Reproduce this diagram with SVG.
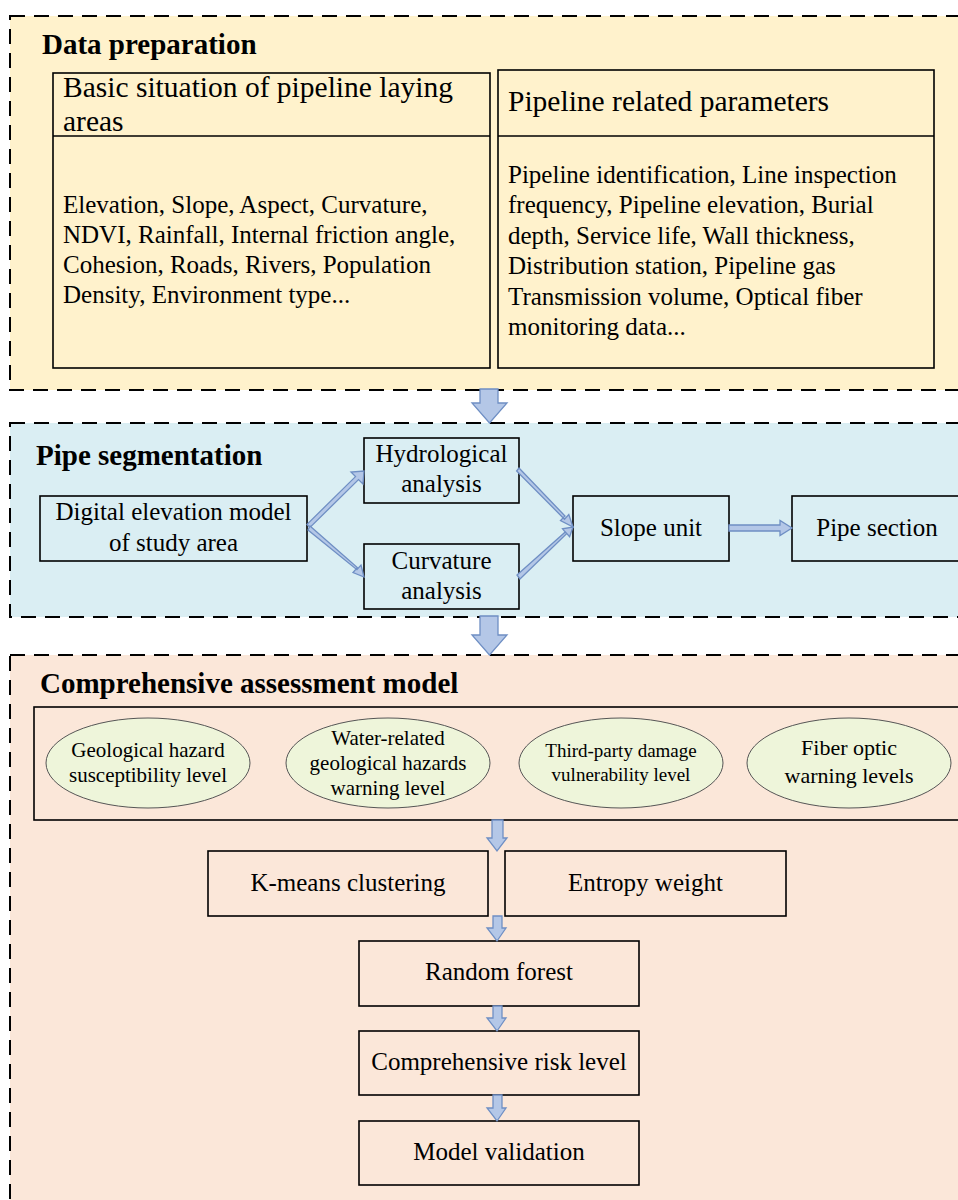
<svg xmlns="http://www.w3.org/2000/svg" width="958" height="1200" viewBox="0 0 958 1200">
<defs>
<style>
.sec{stroke:#000;stroke-width:2;stroke-dasharray:15 9}
.box{fill:none;stroke:#000;stroke-width:1.6}
.t{font-family:"Liberation Serif","Times New Roman",serif;fill:#000}
.h{font-size:29px;font-weight:bold}
.n{font-size:25px}
.c{text-anchor:middle}
.ell{fill:#EEF5DA;stroke:#555;stroke-width:1}
.arr{fill:#B4C7E7;stroke:#6F8FC4;stroke-width:1.3;stroke-linejoin:miter}
</style>
</defs>
<rect width="958" height="1200" fill="#fff"/>

<g id="data-preparation">
<rect class="sec" x="10" y="16" width="960" height="374" fill="#FFF2CC"/>
<text class="t h" x="42" y="54">Data preparation</text>
</g>
<g id="basic-situation">
<rect class="box" x="53" y="73" width="437" height="295"/>
<line x1="53" y1="136" x2="490" y2="136" stroke="#000" stroke-width="1.6"/>
<text class="t" font-size="29.5" x="63" y="97">Basic situation of pipeline laying</text>
<text class="t" font-size="29.5" x="63" y="131">areas</text>
<text class="t n" x="63" y="213">Elevation, Slope, Aspect, Curvature,</text>
<text class="t n" x="63" y="243">NDVI, Rainfall, Internal friction angle,</text>
<text class="t n" x="63" y="273">Cohesion, Roads, Rivers, Population</text>
<text class="t n" x="63" y="303">Density, Environment type...</text>
</g>
<g id="pipeline-parameters">
<rect class="box" x="498" y="70" width="436" height="298"/>
<line x1="498" y1="136" x2="934" y2="136" stroke="#000" stroke-width="1.6"/>
<text class="t" font-size="29.5" x="508" y="111">Pipeline related parameters</text>
<text class="t n" x="508" y="183">Pipeline identification, Line inspection</text>
<text class="t n" x="508" y="213.4">frequency, Pipeline elevation, Burial</text>
<text class="t n" x="508" y="243.8">depth, Service life, Wall thickness,</text>
<text class="t n" x="508" y="274.2">Distribution station, Pipeline gas</text>
<text class="t n" x="508" y="304.6">Transmission volume, Optical fiber</text>
<text class="t n" x="508" y="335">monitoring data...</text>
</g>

<g id="pipe-segmentation">
<rect class="sec" x="10" y="423" width="960" height="194" fill="#DAEEF3"/>
<text class="t h" x="36" y="465">Pipe segmentation</text>
</g>
<g id="dem">
<rect class="box" x="40" y="496" width="267" height="65"/>
<text class="t n c" x="173.5" y="520">Digital elevation model</text>
<text class="t n c" x="173.5" y="551">of study area</text>
</g>
<g id="hydrological">
<rect class="box" x="364" y="438" width="155" height="65"/>
<text class="t n c" x="441.5" y="462">Hydrological</text>
<text class="t n c" x="441.5" y="492">analysis</text>
</g>
<g id="curvature">
<rect class="box" x="364" y="544" width="155" height="65"/>
<text class="t n c" x="441.5" y="569">Curvature</text>
<text class="t n c" x="441.5" y="599">analysis</text>
</g>
<g id="slope-unit">
<rect class="box" x="573" y="496" width="156" height="65"/>
<text class="t n c" x="651" y="536">Slope unit</text>
</g>
<g id="pipe-section">
<rect class="box" x="792" y="496" width="175" height="65"/>
<text class="t n c" x="877" y="536">Pipe section</text>
</g>

<g id="comprehensive-assessment">
<rect class="sec" x="10" y="655" width="960" height="560" fill="#FBE7D9"/>
<text class="t h" x="40" y="693">Comprehensive assessment model</text>
</g>
<g id="indicators">
<rect class="box" x="34" y="707" width="930" height="113"/>
</g>
<g id="geological-hazard">
<ellipse class="ell" cx="148" cy="763" rx="102" ry="45"/>
<text class="t c" font-size="21" x="148" y="757">Geological hazard</text>
<text class="t c" font-size="21" x="148" y="782">susceptibility level</text>
</g>
<g id="water-related">
<ellipse class="ell" cx="388" cy="763" rx="102" ry="45"/>
<text class="t c" font-size="21" x="388" y="745">Water-related</text>
<text class="t c" font-size="21" x="388" y="770">geological hazards</text>
<text class="t c" font-size="21" x="388" y="795">warning level</text>
</g>
<g id="third-party">
<ellipse class="ell" cx="621" cy="763" rx="102" ry="45"/>
<text class="t c" font-size="19" x="621" y="757">Third-party damage</text>
<text class="t c" font-size="19" x="621" y="781">vulnerability level</text>
</g>
<g id="fiber-optic">
<ellipse class="ell" cx="849" cy="763" rx="102" ry="45"/>
<text class="t c" font-size="22" x="849" y="755">Fiber optic</text>
<text class="t c" font-size="22" x="849" y="783">warning levels</text>
</g>
<g id="kmeans">
<rect class="box" x="208" y="851" width="280" height="65"/>
<text class="t n c" x="348" y="891">K-means clustering</text>
</g>
<g id="entropy">
<rect class="box" x="505" y="851" width="281" height="65"/>
<text class="t n c" x="645.5" y="891">Entropy weight</text>
</g>
<g id="random-forest">
<rect class="box" x="359" y="941" width="280" height="65"/>
<text class="t n c" x="499" y="980">Random forest</text>
</g>
<g id="risk-level">
<rect class="box" x="359" y="1031" width="280" height="64"/>
<text class="t n c" x="499" y="1070">Comprehensive risk level</text>
</g>
<g id="model-validation">
<rect class="box" x="359" y="1121" width="280" height="64"/>
<text class="t n c" x="499" y="1160">Model validation</text>
</g>

<g id="connectors">
<polygon class="arr" points="480,389 498,389 498,403 507,403 489.5,423 472,403 480,403"/>
<polygon class="arr" points="480,616 498,616 498,635 507,635 489.5,655 472,635 480,635"/>
<polygon class="arr" points="307,524.4 355.5,476.6 351,472 364,471 363,484 358.5,479.6 310,527.4"/>
<polygon class="arr" points="310,526 357.3,567.6 353,572.6 364,577 361,565 356.9,569.7 308,530"/>
<polygon class="arr" points="519,468 565,516 560.5,520.6 573,527 568.8,514.6 564.5,519.2 516.6,471"/>
<polygon class="arr" points="517,575 565.3,531.9 569.6,536.7 573,527 562.5,528.8 566.6,533.6 520,579"/>
<polygon class="arr" points="729,525 780,525 780,520.5 792,528 780,535.5 780,531 729,531"/>
<polygon class="arr" points="492,820 503,820 503,838 507,838 497,851 487,838 492,838"/>
<polygon class="arr" points="493,916 502,916 502,928 506,928 497,941 487,928 493,928"/>
<polygon class="arr" points="493,1006 502,1006 502,1018 506,1018 497,1031 487,1018 493,1018"/>
<polygon class="arr" points="493,1095 502,1095 502,1108 506,1108 497,1121 487,1108 493,1108"/>
</g>
</svg>
